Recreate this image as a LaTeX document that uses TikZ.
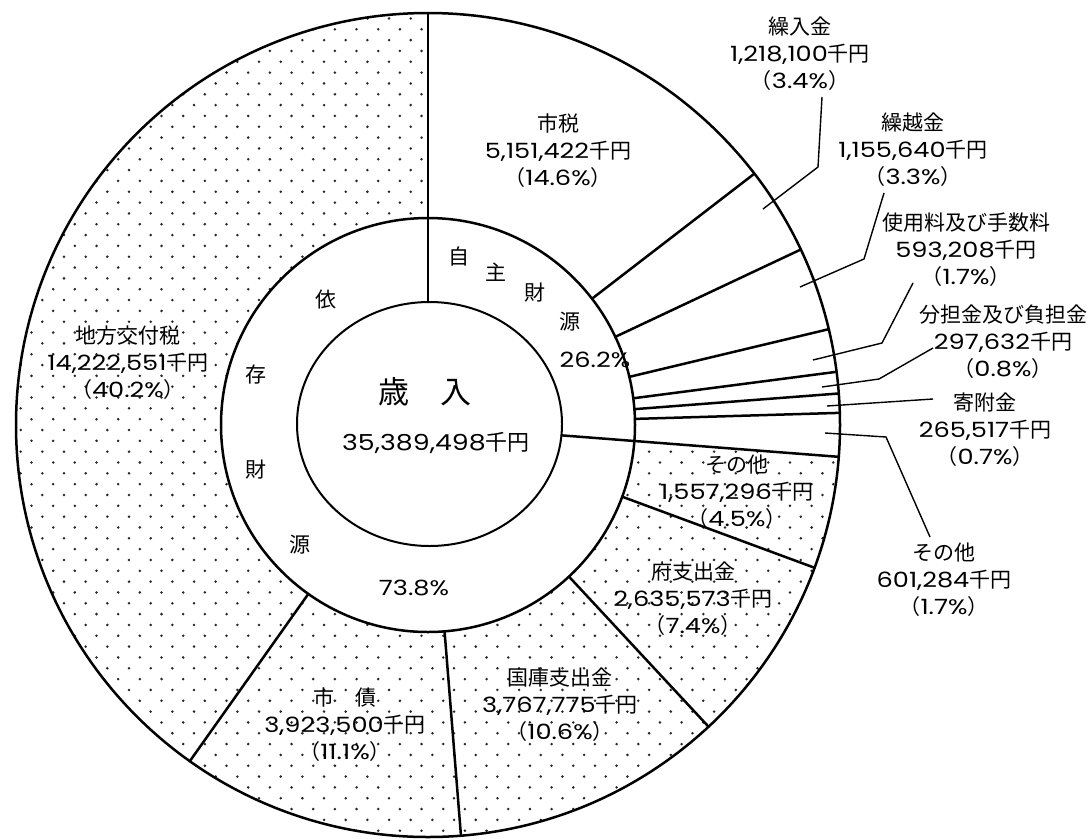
\documentclass[tikz,border=0pt]{standalone}
\usepackage{fontspec}
\setmainfont{Poppins}[FakeStretch=1.22]
\newfontfamily\jpfont{Noto Sans CJK JP}
\newcommand\jpt[1]{{\jpfont #1}}
\tikzset{
  lbl/.style={align=center, inner sep=0pt, font=\fontsize{21}{27}\selectfont, text=black},
  ringlbl/.style={inner sep=0pt, font=\fontsize{21}{27}\selectfont, text=black},
  ring/.style={line width=2.5pt, line cap=round},
  lead/.style={line width=1.4pt},
  dotf/.style={fill=black!85},
}
\begin{document}
\begin{tikzpicture}[x=1pt,y=1pt]
\useasboundingbox (0,-839) rectangle (1092,0);
\fill[white] (0,-839) rectangle (1092,0);
% dotted region (dependent sources, outer ring)
\begin{scope}[shift={(428,-425)}]
  \clip (-4.43:207) -- (-4.43:412) arc[start angle=-4.43, end angle=-270, radius=412]
        -- (90:207) arc[start angle=90, end angle=355.57, radius=207] -- cycle;
  \begin{scope}[shift={(-428,425)}]
    \foreach \j in {0,...,39} {
      \foreach \i in {0,...,39} {
        \fill[dotf] ({-1+21.67*\i}, {3.2-21.66*\j}) circle[radius=1.4];
        \fill[dotf] ({9.83+21.67*\i}, {-7.63-21.66*\j}) circle[radius=1.4];
      }
    }
  \end{scope}
\end{scope}
% pie structure
\begin{scope}[shift={(428,-425)}]
  \draw[ring] (0,0) circle[radius=412];
  \draw[ring] (0,0) circle[radius=207];
  \foreach \a in {37.60,25.21,13.45,7.42,4.39,1.69,-20.27,-47.08,-85.41,-125.32}
    \draw[ring] (\a:207) -- (\a:412);
  \draw[ring] (0,123) -- (90:412);
  \draw[ring] (-4.43:134) -- (-4.43:412);
  \draw[line width=2pt] (1.5,1) ellipse[x radius=132.5, y radius=122];
\end{scope}
% leader coordinates
\coordinate (a1) at (822,-97);  \coordinate (a2) at (818,-167); \coordinate (a3) at (763,-209);
\coordinate (b1) at (884,-193); \coordinate (b2) at (864,-259); \coordinate (b3) at (800,-287);
\coordinate (c1) at (913,-283); \coordinate (c2) at (882,-343); \coordinate (c3) at (813,-360);
\coordinate (d1) at (933,-348); \coordinate (d2) at (879,-379); \coordinate (d3) at (822,-387);
\coordinate (e1) at (933,-399); \coordinate (e3) at (827,-406);
\coordinate (f1) at (825,-433); \coordinate (f2) at (886,-437); \coordinate (f3) at (930,-537);
\draw[lead] (a1) -- (a2) -- (a3);
\draw[lead] (b1) -- (b2) -- (b3);
\draw[lead] (c1) -- (c2) -- (c3);
\draw[lead] (d1) -- (d2) -- (d3);
\draw[lead] (e1) -- (e3);
\draw[lead] (f1) -- (f2) -- (f3);
% labels
\node[lbl] (shizei) at (558,-151) {\jpt{市税}\\5,151,422\jpt{千円}\\\jpt{（}14.6\%\jpt{）}};
\node[lbl] (kuriire) at (800,-54) {\jpt{繰入金}\\1,218,100\jpt{千円}\\\jpt{（}3.4\%\jpt{）}};
\node[lbl] (kurikoshi) at (913,-150) {\jpt{繰越金}\\1,155,640\jpt{千円}\\\jpt{（}3.3\%\jpt{）}};
\node[lbl] (shiyo) at (966,-250) {\jpt{使用料及び手数料}\\593,208\jpt{千円}\\\jpt{（}1.7\%\jpt{）}};
\node[lbl] (buntan) at (1003,-342) {\jpt{分担金及び負担金}\\297,632\jpt{千円}\\\jpt{（}0.8\%\jpt{）}};
\node[lbl] (kifu) at (985,-430) {\jpt{寄附金}\\265,517\jpt{千円}\\\jpt{（}0.7\%\jpt{）}};
\node[lbl] (sonota1) at (944,-580) {\jpt{その他}\\601,284\jpt{千円}\\\jpt{（}1.7\%\jpt{）}};
\node[lbl] (sonota2) at (737,-492) {\jpt{その他}\\1,557,296\jpt{千円}\\\jpt{（}4.5\%\jpt{）}};
\node[lbl] (fu) at (693,-599) {\jpt{府支出金}\\2,635,573\jpt{千円}\\\jpt{（}7.4\%\jpt{）}};
\node[lbl] (kokko) at (560,-705) {\jpt{国庫支出金}\\3,767,775\jpt{千円}\\\jpt{（}10.6\%\jpt{）}};
\node[lbl] (shisai) at (345,-725) {\jpt{市　債}\\3,923,500\jpt{千円}\\\jpt{（}11.1\%\jpt{）}};
\node[lbl] (chiho) at (128,-363) {\jpt{地方交付税}\\14,222,551\jpt{千円}\\\jpt{（}40.2\%\jpt{）}};
% centre
\node[inner sep=0pt, font=\fontsize{31}{36}\selectfont] (sainyu) at (425,-392) {\jpt{歳　入}};
\node[inner sep=0pt, font=\fontsize{22}{27}\selectfont] (total) at (436,-443) {35,389,498\jpt{千円}};
% inner ring letters
\node[ringlbl] (r1) at (459,-257) {\jpt{自}};
\node[ringlbl] (r2) at (496,-272) {\jpt{主}};
\node[ringlbl] (r3) at (535,-293) {\jpt{財}};
\node[ringlbl] (r4) at (570,-322) {\jpt{源}};
\node[ringlbl] (r5) at (595,-360) {26.2\%};
\node[ringlbl] (s1) at (326,-300) {\jpt{依}};
\node[ringlbl] (s2) at (256,-375) {\jpt{存}};
\node[ringlbl] (s3) at (256,-470) {\jpt{財}};
\node[ringlbl] (s4) at (300,-545) {\jpt{源}};
\node[ringlbl] (s5) at (414,-588) {73.8\%};
\end{tikzpicture}
\end{document}
